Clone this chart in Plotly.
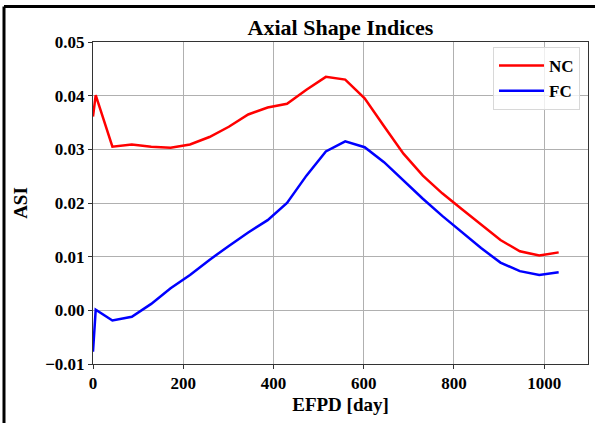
import plotly.graph_objects as go

days = [0, 6, 43, 86, 129, 172, 215, 258, 301, 344, 387, 430, 473, 516, 559, 602,
        645, 688, 731, 774, 817, 860, 903, 946, 989, 1032]
nc = [0.0361, 0.0401, 0.0305, 0.0309, 0.0305, 0.0303, 0.0309, 0.0323, 0.0342, 0.0365,
      0.0378, 0.0385, 0.0411, 0.0435, 0.0430, 0.0395, 0.0343, 0.0292, 0.0251, 0.0218,
      0.0189, 0.0160, 0.0131, 0.0110, 0.0102, 0.0108]
fc = [-0.0077, 0.0001, -0.0019, -0.0012, 0.0012, 0.0041, 0.0066, 0.0094, 0.0120, 0.0145,
      0.0168, 0.0200, 0.0251, 0.0296, 0.0315, 0.0304, 0.0276, 0.0242, 0.0208, 0.0176,
      0.0146, 0.0116, 0.0089, 0.0073, 0.0066, 0.0071]

x_ticks = [0, 200, 400, 600, 800, 1000]
y_ticks = [-0.01, 0.00, 0.01, 0.02, 0.03, 0.04, 0.05]

FONT = "Liberation Serif"

fig = go.Figure()
fig.add_trace(go.Scatter(x=days, y=nc, mode="lines", name="NC",
                         line=dict(color="#ff0000", width=2.5)))
fig.add_trace(go.Scatter(x=days, y=fc, mode="lines", name="FC",
                         line=dict(color="#0000ff", width=2.5)))

L, R, T, B = 93, 7, 42, 59
W, H = 595, 423
pw, ph = W - L - R, H - T - B

axis_common = dict(showline=True, linecolor="#333333", linewidth=1, mirror=True,
                   showgrid=True, gridcolor="#b0b0b0", gridwidth=1,
                   ticks="outside", ticklen=4, tickcolor="#333333",
                   tickfont=dict(family=FONT, size=17, color="black", weight="bold"),
                   zeroline=False, automargin=False)

fig.update_layout(
    width=W, height=H,
    margin=dict(l=L, r=R, t=T, b=B, autoexpand=False),
    paper_bgcolor="white", plot_bgcolor="white",
    title=dict(text="Axial Shape Indices", x=(L + pw / 2) / W, xanchor="center",
               y=1 - 27 / H, yanchor="middle",
               font=dict(family=FONT, size=22, color="black", weight="bold")),
    xaxis=dict(range=[0, 1097], tickvals=x_ticks,
               title=dict(text="EFPD [day]", standoff=5,
                          font=dict(family=FONT, size=19, color="black", weight="bold")),
               **axis_common),
    yaxis=dict(range=[-0.01, 0.05], tickvals=y_ticks, tickformat=".2f",
               title=dict(text="ASI", standoff=12,
                          font=dict(family=FONT, size=19, color="black", weight="bold")),
               **axis_common),
    legend=dict(x=(580 - L) / pw, xanchor="right", y=1 - (47 - T) / ph, yanchor="top",
                itemwidth=45,
                bgcolor="rgba(255,255,255,0.8)", bordercolor="#d8d8d8", borderwidth=1,
                font=dict(family=FONT, size=17, color="black", weight="bold")),
    showlegend=True,
)

# figure frame (left and top edges)
fig.add_shape(type="line", xref="paper", yref="paper",
              x0=(4 - L) / pw, x1=(4 - L) / pw, y0=-(H - T - ph) / ph, y1=1 + (T - 6.5) / ph,
              line=dict(color="black", width=3))
fig.add_shape(type="line", xref="paper", yref="paper",
              x0=(4 - L) / pw, x1=(W - L) / pw, y0=1 + (T - 6.5) / ph, y1=1 + (T - 6.5) / ph,
              line=dict(color="black", width=3))

fig.write_html("out.html", config=dict(displayModeBar=False),
               post_script="document.body.style.margin='0';")
